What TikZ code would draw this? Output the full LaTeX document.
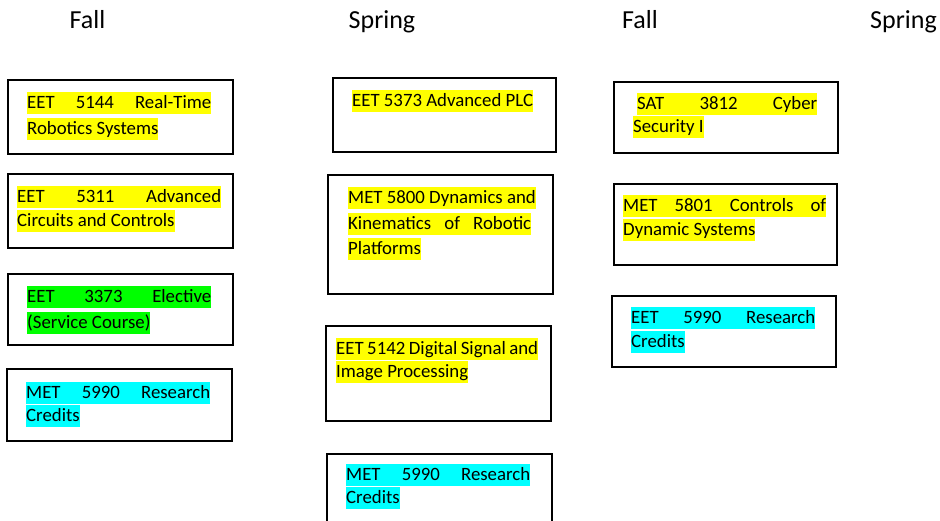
\documentclass[tikz,border=0pt]{standalone}
\usepackage{fontspec}
\setmainfont{Carlito}
\definecolor{hlyellow}{HTML}{FFFF00}
\definecolor{hlgreen}{HTML}{00FF00}
\definecolor{hlcyan}{HTML}{00FFFF}
\newcommand{\bodyfont}{\fontsize{18.8pt}{22pt}\selectfont}
\newcommand{\headfont}{\fontsize{26pt}{30pt}\selectfont}
\newcommand{\jline}[2]{\makebox[#1pt]{#2}}
\tikzset{
  course/.style={draw, line width=1.7pt, inner sep=0pt, anchor=north west},
  hlbase/.style={inner sep=0pt, text height=16.5pt, text depth=6pt, anchor=base west, font=\bodyfont},
  hly/.style={hlbase, fill=hlyellow},
  hlg/.style={hlbase, fill=hlgreen},
  hlc/.style={hlbase, fill=hlcyan},
  head/.style={anchor=base, font=\headfont, inner sep=0pt},
}
\begin{document}
\begin{tikzpicture}[x=1pt, y=-1pt]
\clip (0,0) rectangle (940,520);
\useasboundingbox (0,0) rectangle (940,520);

% headers
\node[head] (h1) at (87.5,28) {Fall};
\node[head] (h2) at (382,28) {Spring};
\node[head] (h3) at (640,28) {Fall};
\node[head] (h4) at (903.5,28) {Spring};

% column 1
\node[course, minimum width=225pt, minimum height=74pt] (b1) at (7,79) {};
\node[hly] (b1a) at (27,108) {\jline{184}{EET\hfill 5144\hfill Real-Time}};
\node[hly] (b1b) at (27,134) {Robotics Systems};

\node[course, minimum width=225pt, minimum height=74pt] (b2) at (7,173) {};
\node[hly] (b2a) at (17,202) {\jline{204}{EET\hfill 5311\hfill Advanced}};
\node[hly] (b2b) at (17,226) {Circuits and Controls};

\node[course, minimum width=225pt, minimum height=71pt] (b3) at (7,273) {};
\node[hlg] (b3a) at (27,302) {\jline{184}{EET\hfill 3373\hfill Elective}};
\node[hlg] (b3b) at (27,328) {(Service Course)};

\node[course, minimum width=225pt, minimum height=72pt] (b4) at (6,368) {};
\node[hlc] (b4a) at (26,398) {\jline{184}{MET\hfill 5990\hfill Research}};
\node[hlc] (b4b) at (26,421) {Credits};

% column 2
\node[course, minimum width=223pt, minimum height=74pt] (b5) at (332,77) {};
\node[hly] (b5a) at (352,106) {EET 5373 Advanced PLC};

\node[course, minimum width=225pt, minimum height=119pt] (b6) at (327,174) {};
\node[hly] (b6a) at (348,203) {MET 5800 Dynamics and};
\node[hly] (b6b) at (348,229) {\jline{183}{Kinematics\hfill of\hfill Robotic}};
\node[hly] (b6c) at (348,254) {Platforms};

\node[course, minimum width=225pt, minimum height=95pt] (b7) at (325,325) {};
\node[hly] (b7a) at (336,354) {\jline{202}{EET\hfill 5142\hfill Digital\hfill Signal\hfill and}};
\node[hly] (b7b) at (336,377) {Image Processing};

\node[course, minimum width=225pt, minimum height=90pt] (b8) at (326,453) {};
\node[hlc] (b8a) at (346,480) {\jline{184}{MET\hfill 5990\hfill Research}};
\node[hlc] (b8b) at (346,503) {Credits};

% column 3
\node[course, minimum width=224pt, minimum height=71pt] (b9) at (613,81) {};
\node[hly] (b9a) at (637,109) {\jline{180}{SAT\hfill 3812\hfill Cyber}};
\node[hly] (b9b) at (633,132) {Security I};

\node[course, minimum width=223pt, minimum height=81pt] (b10) at (613,183) {};
\node[hly] (b10a) at (623,211) {\jline{203}{MET\hfill 5801\hfill Controls\hfill of}};
\node[hly] (b10b) at (623,235) {Dynamic Systems};

\node[course, minimum width=224pt, minimum height=71pt] (b11) at (611,295) {};
\node[hlc] (b11a) at (631,323) {\jline{184}{EET\hfill 5990\hfill Research}};
\node[hlc] (b11b) at (631,347) {Credits};
\end{tikzpicture}
\end{document}
